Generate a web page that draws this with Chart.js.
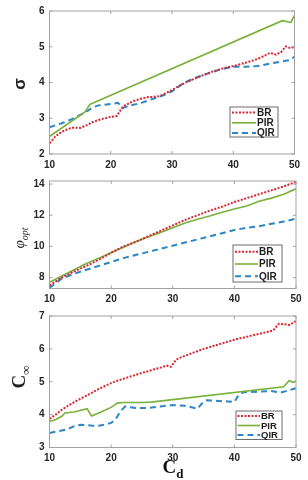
<!DOCTYPE html>
<html>
<head>
<meta charset="utf-8">
<script src="https://cdn.jsdelivr.net/npm/chart.js@4.4.1/dist/chart.umd.min.js"></script>
<style>
	body { margin: 0; background: #fff; }
	#page { position: relative; width: 308px; height: 480px; overflow: hidden; background: #fff; }
	canvas { position: absolute; left: 0; }
	.ylab { position: absolute; transform: translate(-50%, -50%) rotate(-90deg); white-space: nowrap; color: #222; line-height: 1; }
	.xlab { position: absolute; transform: translate(-50%, -50%); white-space: nowrap; color: #111; line-height: 1; }
</style>
</head>
<body>
<div id="page">
	<canvas id="sigma-chart" width="308" height="170" style="top:0"></canvas>
	<canvas id="phi-chart" width="308" height="135" style="top:170px"></canvas>
	<canvas id="cinf-chart" width="308" height="175" style="top:305px"></canvas>

	<div class="ylab" style="left:20px; top:84px; font:bold 17px 'Liberation Sans';">σ</div>
	<div class="ylab" style="left:20px; top:238px; font:italic 15px 'Liberation Serif'; color:#333;">φ<sub style="font:italic 10px 'Liberation Serif';">opt</sub></div>
	<div class="ylab" style="left:21px; top:377px; font:bold 19px 'Liberation Serif';">C<sub style="font:bold 13px 'Liberation Serif';">∞</sub></div>
	<div class="xlab" style="left:173px; top:469px; font:bold 19px 'Liberation Serif';">C<sub style="font:bold 13px 'Liberation Serif';">d</sub></div>
</div>

<script>
// ---- tick labels ----
var cdTicks = [10, 20, 30, 40, 50];
var sigmaTicks = [2, 3, 4, 5, 6];
var phiTicks = [8, 10, 12, 14];
var cinfTicks = [3, 4, 5, 6, 7];
var seriesNames = ['BR', 'PIR', 'QIR'];

// ---- sigma panel ----
var cdSigmaBR = [10, 11, 12, 13, 14, 15, 16, 17, 18, 19, 20, 21, 21.5, 22, 23, 24, 25, 26, 27, 28, 29, 30, 32, 34, 36, 38, 40, 42, 44, 45, 46, 47, 47.8, 48.6, 49.3, 50];
var sigmaBR = [2.3, 2.5, 2.62, 2.7, 2.74, 2.73, 2.8, 2.89, 2.95, 3.0, 3.04, 3.06, 3.2, 3.33, 3.42, 3.5, 3.55, 3.59, 3.6, 3.62, 3.7, 3.79, 3.98, 4.13, 4.27, 4.38, 4.46, 4.55, 4.66, 4.74, 4.83, 4.78, 4.85, 5.01, 4.96, 5.0];
var cdSigmaPIR = [10, 15.8, 16.6, 17.4, 48, 49.4, 50];
var sigmaPIR = [2.49, 3.18, 3.39, 3.45, 5.73, 5.68, 5.88];
var cdSigmaQIR = [10, 12, 14, 16, 17, 18, 20, 21.2, 21.9, 23, 25, 27, 28, 30, 32, 34, 36, 38, 40, 42, 44, 46, 48, 49, 50];
var sigmaQIR = [2.75, 2.86, 3.0, 3.18, 3.3, 3.36, 3.4, 3.43, 3.28, 3.35, 3.43, 3.55, 3.6, 3.75, 4.0, 4.14, 4.26, 4.37, 4.44, 4.44, 4.46, 4.53, 4.59, 4.62, 4.72];

// ---- phi_opt panel ----
var cdPhi = [10, 12, 14, 16, 18, 20, 22, 24, 26, 28, 30, 32, 34, 36, 38, 40, 42, 44, 46, 48, 50];
var phiBR = [7.5, 8.0, 8.4, 8.75, 9.15, 9.6, 10.0, 10.3, 10.65, 11.0, 11.35, 11.7, 12.0, 12.3, 12.55, 12.85, 13.1, 13.35, 13.6, 13.85, 14.15];
var phiPIR = [7.7, 8.1, 8.5, 8.9, 9.25, 9.6, 9.95, 10.3, 10.6, 10.9, 11.2, 11.5, 11.75, 11.95, 12.2, 12.4, 12.6, 12.9, 13.1, 13.35, 13.7];
var phiQIR = [7.33, 7.95, 8.25, 8.5, 8.75, 9.0, 9.25, 9.45, 9.65, 9.85, 10.05, 10.25, 10.45, 10.65, 10.85, 11.05, 11.2, 11.3, 11.45, 11.6, 11.78];

// ---- C_inf panel ----
var cdCinfBR = [10, 11, 12, 13, 14, 15, 16, 17, 18, 19, 20, 21, 22, 23, 24, 25, 26, 27, 28, 29, 29.7, 30.5, 31, 35, 40, 45, 46.3, 47.2, 48, 49, 50];
var cinfBR = [3.87, 4.0, 4.15, 4.27, 4.38, 4.48, 4.58, 4.68, 4.78, 4.87, 4.96, 5.03, 5.09, 5.15, 5.21, 5.27, 5.32, 5.38, 5.43, 5.49, 5.45, 5.66, 5.72, 6.0, 6.28, 6.5, 6.56, 6.76, 6.75, 6.73, 6.85];
var cdCinfPIR = [10, 11, 12, 12.5, 14, 16.1, 16.8, 18, 20, 21, 22, 25, 26.5, 48, 48.9, 49.5, 50];
var cinfPIR = [3.79, 3.85, 3.95, 4.05, 4.08, 4.18, 3.96, 4.05, 4.22, 4.35, 4.37, 4.37, 4.38, 4.85, 5.04, 4.98, 5.02];
var cdCinfQIR = [10, 11, 12, 13, 14, 15, 16, 17, 18, 19, 20, 20.7, 21.5, 22.3, 24, 26, 28, 30, 32, 34, 34.8, 35.5, 37, 39, 40, 40.7, 41.5, 44, 46, 47.5, 49, 50];
var cinfQIR = [3.44, 3.48, 3.52, 3.56, 3.65, 3.69, 3.68, 3.66, 3.66, 3.7, 3.75, 3.85, 4.1, 4.25, 4.2, 4.2, 4.25, 4.29, 4.27, 4.18, 4.35, 4.44, 4.42, 4.4, 4.38, 4.6, 4.68, 4.7, 4.72, 4.67, 4.75, 4.8];

// Line styles for each series
var seriesStyle = {
	BR: { borderColor: '#d7262f', borderDash: [2, 1.5], borderWidth: 2 },
	PIR: { borderColor: '#78b13a', borderDash: [], borderWidth: 1.6 },
	QIR: { borderColor: '#2b86c5', borderDash: [6, 4], borderWidth: 2 }
};

var tickFont = { family: 'Liberation Sans', weight: 'bold', size: 10 };

function pts(xs, ys) {
	return xs.map(function (x, i) { return { x: x, y: ys[i] }; });
}

/***************************************
	Frame, inside ticks and boxed legend
***************************************/
var framePlugin = {
	id: 'frame',
	afterDraw: function (chart, args, opts) {
		var ctx = chart.ctx, a = chart.chartArea;
		var xs = chart.scales.x, ys = chart.scales.y;
		ctx.save();
		ctx.strokeStyle = '#a2a2a2';
		ctx.lineWidth = 1;
		ctx.setLineDash([]);
		ctx.strokeRect(a.left, a.top, a.width, a.height);

		// small ticks pointing inward
		ctx.beginPath();
		xs.ticks.forEach(function (t) {
			var px = xs.getPixelForValue(t.value);
			ctx.moveTo(px, a.bottom); ctx.lineTo(px, a.bottom - 3);
			ctx.moveTo(px, a.top); ctx.lineTo(px, a.top + 3);
		});
		ys.ticks.forEach(function (t) {
			var py = ys.getPixelForValue(t.value);
			ctx.moveTo(a.left, py); ctx.lineTo(a.left + 3, py);
			ctx.moveTo(a.right, py); ctx.lineTo(a.right - 3, py);
		});
		ctx.stroke();

		// legend box
		var L = opts.legend;
		if (L) {
			ctx.fillStyle = '#fff';
			ctx.fillRect(L.left, L.top, L.width, L.height);
			ctx.strokeStyle = '#6c6c6c';
			ctx.strokeRect(L.left, L.top, L.width, L.height);
			chart.data.datasets.forEach(function (ds, i) {
				var yy = L.top + L.rowTop + i * L.rowGap;
				ctx.beginPath();
				ctx.strokeStyle = ds.borderColor;
				ctx.lineWidth = ds.borderWidth;
				ctx.setLineDash(ds.borderDash || []);
				ctx.moveTo(L.left + L.lineX0, yy);
				ctx.lineTo(L.left + L.lineX1, yy);
				ctx.stroke();
				ctx.setLineDash([]);
				ctx.fillStyle = '#1e1e1e';
				ctx.font = 'bold ' + L.fontSize + 'px "Liberation Sans"';
				ctx.textBaseline = 'middle';
				ctx.textAlign = 'left';
				ctx.fillText(ds.label, L.left + L.lineX1 + 1, yy + 0.5);
			});
		}
		ctx.restore();
	}
};

function makeChart(id, series, yTicks, yMin, yMax, pad, xHeight, legend) {
	var ctx = document.getElementById(id).getContext('2d');
	return new Chart(ctx, {
		type: 'line',
		data: {
			datasets: series.map(function (s, i) {
				var st = seriesStyle[seriesNames[i]];
				return {
					label: seriesNames[i],
					data: pts(s[0], s[1]),
					borderColor: st.borderColor,
					borderDash: st.borderDash,
					borderWidth: st.borderWidth,
					pointRadius: 0,
					tension: 0,
					fill: false
				};
			})
		},
		options: {
			responsive: false,
			animation: false,
			devicePixelRatio: 1,
			layout: { padding: { top: pad.top, right: pad.right, bottom: 0, left: 0 } },
			plugins: {
				legend: { display: false },
				tooltip: { enabled: false },
				frame: { legend: legend }
			},
			scales: {
				x: {
					type: 'linear',
					min: 10, max: 50,
					grid: { display: false, drawTicks: false },
					border: { display: false },
					ticks: { padding: 5, color: '#262626', font: tickFont, maxRotation: 0 },
					afterBuildTicks: function (s) { s.ticks = cdTicks.map(function (v) { return { value: v }; }); },
					afterFit: function (s) { s.height = xHeight; }
				},
				y: {
					type: 'linear',
					min: yMin, max: yMax,
					grid: { display: false, drawTicks: false },
					border: { display: false },
					ticks: { padding: 5, color: '#262626', font: tickFont },
					afterBuildTicks: function (s) { s.ticks = yTicks.map(function (v) { return { value: v }; }); },
					afterFit: function (s) { s.width = 49.5; }
				}
			}
		},
		plugins: [framePlugin]
	});
}

makeChart('sigma-chart',
	[[cdSigmaBR, sigmaBR], [cdSigmaPIR, sigmaPIR], [cdSigmaQIR, sigmaQIR]],
	sigmaTicks, 2, 6, { top: 9, right: 13.5 }, 16,
	{ left: 230, top: 107, width: 48, height: 30, rowTop: 5.5, rowGap: 10.3, lineX0: 2, lineX1: 26, fontSize: 10 });

makeChart('phi-chart',
	[[cdPhi, phiBR], [cdPhi, phiPIR], [cdPhi, phiQIR]],
	phiTicks, 7.3, 14.2, { top: 6.5, right: 12 }, 16.5,
	{ left: 233, top: 75, width: 49, height: 37, rowTop: 6.7, rowGap: 12.3, lineX0: 2, lineX1: 25, fontSize: 10 });

makeChart('cinf-chart',
	[[cdCinfBR, cinfBR], [cdCinfPIR, cinfPIR], [cdCinfQIR, cinfQIR]],
	cinfTicks, 3, 7, { top: 8.5, right: 12 }, 32.5,
	{ left: 236, top: 106, width: 46, height: 28.5, rowTop: 5, rowGap: 9.5, lineX0: 1.5, lineX1: 24, fontSize: 9.5 });
</script>
</body>
</html>
